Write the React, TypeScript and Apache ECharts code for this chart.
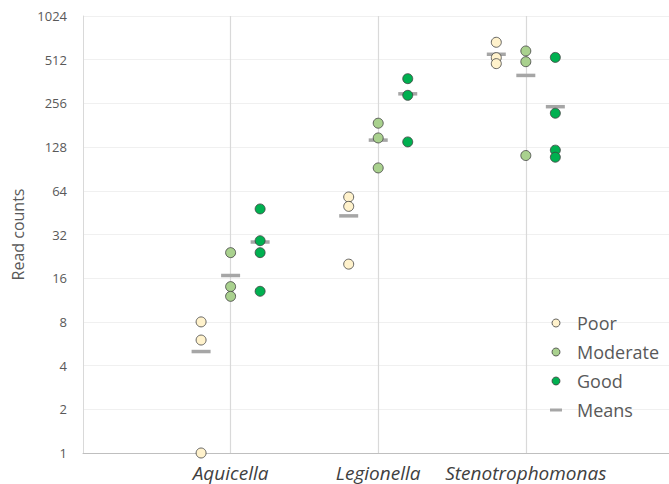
import React, { useEffect, useRef } from "react";
import * as echarts from "echarts";

const categories = ["Aquicella", "Legionella", "Stenotrophomonas"];
const groups = ["Poor", "Moderate", "Good"];
const poorValues = [[8, 6, 1], [58, 50, 20], [675, 529, 481]];
const moderateValues = [[24, 14, 12], [187, 148, 92], [588, 496, 112]];
const goodValues = [[48, 29, 24, 13], [379, 291, 139], [531, 219, 122, 109]];
const meansPoor = [5, 43, 558];
const meansModerate = [16.7, 143, 399];
const meansGood = [28.4, 298, 243];
const yTicks = [1, 2, 4, 8, 16, 32, 64, 128, 256, 512, 1024];
const categoryPositions = [1, 2, 3];

const offsets = [-0.2, 0, 0.2];
const colors = ["#FFF2CC", "#A9D18E", "#00B050"];
const FONT = "Open Sans";

function toPoints(vals: number[][], off: number) {
  const pts: number[][] = [];
  vals.forEach((arr, i) => arr.forEach((v) => pts.push([categoryPositions[i] + off, v])));
  return pts;
}

export default function App() {
  const ref = useRef<HTMLDivElement>(null);
  useEffect(() => {
    if (!ref.current) return;
    const chart = echarts.init(ref.current, null, { renderer: "svg" });
    const groupVals = [poorValues, moderateValues, goodValues];
    const meansAll = [meansPoor, meansModerate, meansGood];
    const meanPts: number[][] = [];
    meansAll.forEach((m, g) =>
      m.forEach((v, i) => meanPts.push([categoryPositions[i] + offsets[g], v]))
    );

    const series: any[] = groups.map((name, g) => ({
      name,
      type: "scatter",
      z: 3,
      symbol: "circle",
      symbolSize: 10,
      itemStyle: { color: colors[g], borderColor: "#404040", borderWidth: 0.8, opacity: 1 },
      data: toPoints(groupVals[g], offsets[g]),
    }));
    series.push({
      name: "Means",
      type: "scatter",
      z: 2,
      symbol: "rect",
      symbolSize: [19, 3.5],
      itemStyle: { color: "#A6A6A6", opacity: 1 },
      data: meanPts,
      markLine: {
        silent: true,
        symbol: "none",
        label: { show: false },
        lineStyle: { color: "#D9D9D9", width: 1.2, type: "solid" },
        data: categoryPositions.map((x) => ({ xAxis: x })),
        z: 1,
      },
    });

    chart.setOption({
      animation: false,
      backgroundColor: "#ffffff",
      textStyle: { fontFamily: FONT },
      grid: { left: 83, right: 0, top: 16, bottom: 31, containLabel: false },
      legend: {
        orient: "vertical",
        left: 535,
        top: 308,
        itemWidth: 32,
        itemHeight: 8,
        itemGap: 9,
        itemStyle: { borderWidth: 0.8 },
        textStyle: { fontFamily: FONT, fontSize: 18, color: "#595959", lineHeight: 20 },
        data: [
          { name: "Poor", icon: "circle" },
          { name: "Moderate", icon: "circle" },
          { name: "Good", icon: "circle" },
          { name: "Means", icon: "path://M0,0M10,2.5H22V5.5H10ZM32,8" },
        ],
      },
      xAxis: {
        type: "value",
        min: 0,
        max: 3.97,
        interval: 1,
        axisLine: { show: true, lineStyle: { color: "#BFBFBF", width: 1 } },
        axisTick: { show: false },
        splitLine: { show: false },
        axisLabel: {
          margin: 10,
          fontFamily: FONT,
          fontSize: 19,
          fontStyle: "italic",
          color: "#404040",
          showMaxLabel: false,
          formatter: (v: number) => {
            const idx = categoryPositions.indexOf(Math.round(v * 100) / 100);
            return idx >= 0 ? categories[idx] : "";
          },
        },
      },
      yAxis: {
        type: "log",
        logBase: 2,
        min: yTicks[0],
        max: yTicks[yTicks.length - 1],
        interval: 1,
        name: "Read counts",
        nameLocation: "middle",
        nameGap: 56,
        nameTextStyle: { fontFamily: FONT, fontSize: 16, color: "#595959" },
        axisLine: { show: true, lineStyle: { color: "#D9D9D9", width: 1 } },
        axisTick: { show: false },
        splitLine: { show: true, lineStyle: { color: "#F0F0F0", width: 1 } },
        axisLabel: {
          margin: 16,
          fontFamily: FONT,
          fontSize: 13,
          color: "#595959",
          formatter: (v: number) => String(Math.round(v)),
        },
      },
      series,
    });
    return () => chart.dispose();
  }, []);
  return (
    <div
      ref={ref}
      style={{ position: "fixed", left: 0, top: 0, width: 669, height: 484, background: "#fff" }}
    />
  );
}
